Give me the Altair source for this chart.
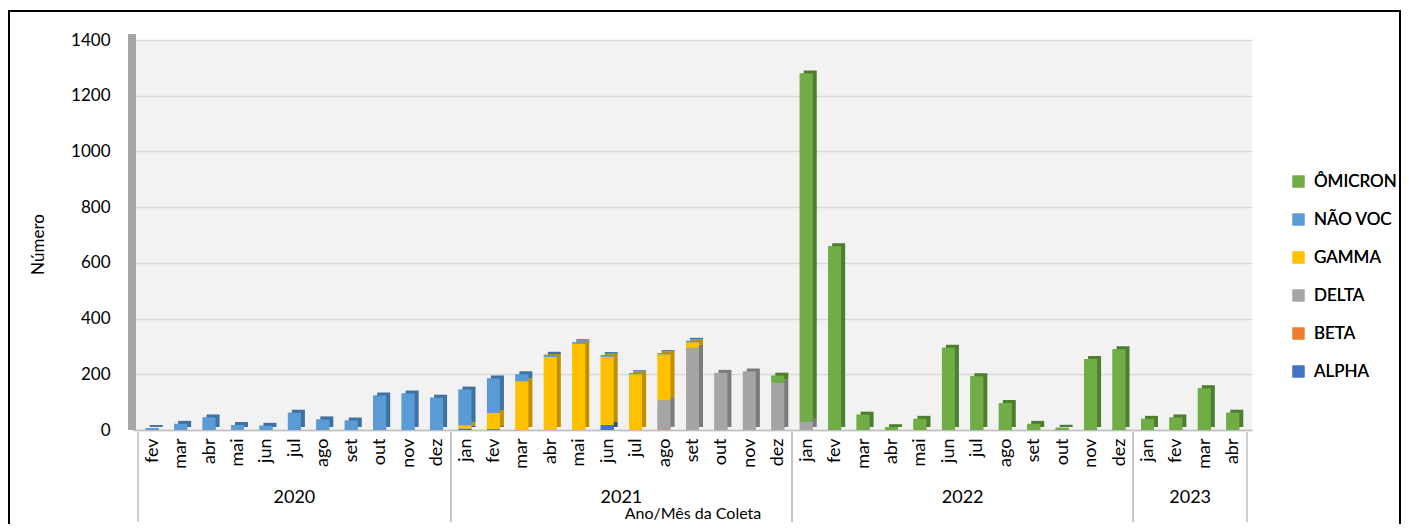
import altair as alt
import pandas as pd

# ---------------- data ----------------
years = ["2020"] * 11 + ["2021"] * 12 + ["2022"] * 12 + ["2023"] * 4
months = (
    ["fev", "mar", "abr", "mai", "jun", "jul", "ago", "set", "out", "nov", "dez"]
    + ["jan", "fev", "mar", "abr", "mai", "jun", "jul", "ago", "set", "out", "nov", "dez"]
    + ["jan", "fev", "mar", "abr", "mai", "jun", "jul", "ago", "set", "out", "nov", "dez"]
    + ["jan", "fev", "mar", "abr"]
)

alpha = [0] * 11 + [5, 3, 0, 0, 0, 18, 0, 0, 0, 0, 0, 0] + [0] * 12 + [0] * 4
beta = [0] * 11 + [0, 0, 0, 0, 0, 0, 0, 2, 0, 0, 0, 0] + [0] * 12 + [0] * 4
delta = ([0] * 11 + [0, 0, 0, 0, 0, 0, 0, 105, 295, 205, 210, 170]
         + [30, 0, 0, 0, 0, 0, 0, 0, 0, 0, 0, 0] + [0] * 4)
gamma = ([0] * 11 + [12, 58, 175, 262, 310, 245, 200, 165, 20, 0, 0, 0]
         + [0] * 12 + [0] * 4)
nao_voc = ([7, 22, 45, 18, 15, 62, 38, 34, 124, 131, 116]
           + [128, 124, 25, 8, 5, 6, 4, 4, 5, 0, 0, 0] + [0] * 12 + [0] * 4)
omicron = ([0] * 11 + [0, 0, 0, 0, 0, 0, 0, 0, 0, 0, 0, 25]
           + [1250, 660, 55, 10, 40, 295, 193, 97, 22, 8, 255, 290]
           + [40, 45, 150, 62])

# stacking order (bottom -> top)
stack_names = ["ALPHA", "BETA", "DELTA", "GAMMA", "NÃO VOC", "ÔMICRON"]
stack_values = [alpha, beta, delta, gamma, nao_voc, omicron]

legend_order = ["ÔMICRON", "NÃO VOC", "GAMMA", "DELTA", "BETA", "ALPHA"]
front_colors = ["#70AD47", "#5B9BD5", "#FFC000", "#A5A5A5", "#ED7D31", "#4472C4"]
side_colors = ["#4E7F30", "#3F72A0", "#BF9000", "#7B7B7B", "#AE5A21", "#2F528F"]

rows = []
for k, (name, vals) in enumerate(zip(stack_names, stack_values)):
    for i, v in enumerate(vals):
        rows.append({"idx": i, "year": years[i], "month": months[i],
                     "variant": name, "value": v, "ord": k})
df = pd.DataFrame(rows)
df_months = pd.DataFrame({"idx": list(range(len(months))), "year": years, "month": months})

W, H = 1119, 390
FONT = "Lato"
FS = 17
FSX = 18

xscale = alt.Scale(domain=[-0.5, len(months) - 0.5], nice=False, zero=False)
yscale = alt.Scale(domain=[0, 1400], nice=False)

month_expr = "split('" + ",".join(months) + "', ',')[datum.value]"

xaxis = alt.Axis(
    values=list(range(len(months))), labelExpr=month_expr, labelAngle=270,
    labelFontSize=FSX, labelPadding=8, ticks=False, grid=False,
    domainColor="#BFBFBF", domainWidth=1.5, labelColor="#000000",
    title="Ano/Mês da Coleta", titleFontSize=16, titleFontWeight="normal",
    titleColor="#000000", titleY=83, titleBaseline="middle",
)
yaxis = alt.Axis(
    values=[0, 200, 400, 600, 800, 1000, 1200, 1400], format="d", labelFontSize=FS,
    labelPadding=23, ticks=False, domain=False, grid=True,
    gridColor="#D9D9D9", gridWidth=1.5, labelColor="#000000",
    title="Número", titleFontSize=FS, titleFontWeight="normal",
    titleColor="#000000", titleX=-95, titleY=204, titleAngle=270,
    titleAlign="center", titleBaseline="middle",
)

deco = pd.DataFrame({"d": [0]})

# chart frame (outer border)
frame = alt.Chart(deco).mark_rect(fill=None, stroke="#000000", strokeWidth=2).encode(
    x=alt.value(-124), x2=alt.value(W + 148), y=alt.value(-29), y2=alt.value(H + 120)
)
# 3D side wall on the left
wall = alt.Chart(deco).mark_rect(color="#A6A6A6").encode(
    x=alt.value(-5), x2=alt.value(3), y=alt.value(-6), y2=alt.value(H)
)

front = alt.Chart(df).mark_bar(size=13).encode(
    x=alt.X("idx:Q", scale=xscale, axis=xaxis),
    y=alt.Y("value:Q", stack="zero", scale=yscale, axis=yaxis),
    color=alt.Color(
        "variant:N",
        scale=alt.Scale(domain=legend_order, range=front_colors),
        legend=alt.Legend(
            title=None, orient="none", legendX=1157, legendY=133,
            symbolType="square", symbolSize=144, symbolStrokeWidth=0,
            labelFontSize=FS, labelColor="#000000", rowPadding=20,
            labelOffset=7, padding=0,
        ),
    ),
    order=alt.Order("ord:Q"),
)

side = alt.Chart(df).mark_bar(size=13, xOffset=4, yOffset=-3).encode(
    x=alt.X("idx:Q", scale=xscale, axis=xaxis),
    y=alt.Y("value:Q", stack="zero", scale=yscale, axis=yaxis),
    color=alt.Color("variant:N", scale=alt.Scale(domain=legend_order, range=side_colors),
                    legend=None),
    order=alt.Order("ord:Q"),
)

seps = alt.Chart(df_months).transform_aggregate(
    lo="min(idx)", hi="max(idx)", groupby=["year"]
).transform_calculate(
    left="datum.lo - 0.5", right="datum.hi + 0.5"
).transform_fold(["left", "right"], as_=["edge", "pos"]).mark_rule(
    color="#BFBFBF", strokeWidth=1.5
).encode(
    x=alt.X("pos:Q", scale=xscale, axis=xaxis),
    y=alt.value(H + 2), y2=alt.value(H + 92),
)

year_text = alt.Chart(df_months).transform_aggregate(
    c="mean(idx)", groupby=["year"]
).mark_text(fontSize=FSX, baseline="middle", align="center", color="#000000").encode(
    x=alt.X("c:Q", scale=xscale, axis=xaxis),
    y=alt.value(H + 68),
    text="year:N",
)

chart = alt.layer(front, wall, frame, side, front, seps, year_text).resolve_scale(
    color="independent"
).properties(
    width=W, height=H,
    autosize=alt.AutoSizeParams(type="none"),
    padding={"left": 125, "top": 32, "right": 149, "bottom": 94},
).configure(font=FONT).configure_view(fill="#F2F2F2", stroke=None)

chart.save("out.html", embed_options={"renderer": "svg", "actions": False})
